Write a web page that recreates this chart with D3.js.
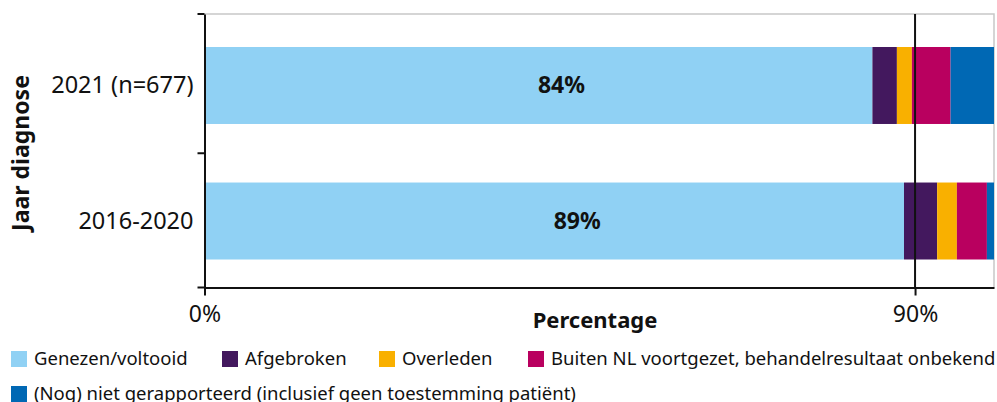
<!DOCTYPE html>
<html>
<head>
<meta charset="utf-8">
<script src="https://cdn.jsdelivr.net/npm/d3@7"></script>
<style>
body { margin: 0; background: #fff; }
text { font-family: 'Noto Sans', sans-serif; }
</style>
</head>
<body>
<script>
var years = ['2021 (n=677)', '2016-2020'];
var seriesNames = ['Genezen/voltooid', 'Afgebroken', 'Overleden',
    'Buiten NL voortgezet, behandelresultaat onbekend',
    '(Nog) niet gerapporteerd (inclusief geen toestemming patiënt)'];
var seriesColors = ['#90d1f4', '#43185e', '#f9b000', '#b9005f', '#0068b4'];
var genezen = [84.6, 88.6];
var afgebroken = [3.1, 4.2];
var overleden = [1.9, 2.5];
var buiten = [4.9, 3.8];
var nietGerapporteerd = [5.5, 0.9];
var barLabels = ['84%', '89%'];
var xTicks = [0, 90];

var svgWidth = 997, svgHeight = 402;
var plotLeft = 204.5, plotRight = 994, plotTop = 14, plotBottom = 287.5;

var svg = d3.select('body')
    .append('svg')
    .attr('width', svgWidth)
    .attr('height', svgHeight);

var x = d3.scaleLinear().domain([0, 100]).range([plotLeft, plotRight]);
var y = d3.scaleBand().domain(years).range([plotTop, plotTop + 278.5]).paddingInner(0.432).paddingOuter(0.2435);

var rows = years.map(function (yr, i) {
    return {year: yr, values: [genezen[i], afgebroken[i], overleden[i], buiten[i], nietGerapporteerd[i]]};
});

// plot frame (top and right, light grey)
svg.append('path')
    .attr('d', 'M' + plotLeft + ',' + plotTop + 'H' + plotRight + 'V' + plotBottom)
    .attr('fill', 'none')
    .attr('stroke', '#c8c8c8')
    .attr('stroke-width', 1.5);

// stacked bars
rows.forEach(function (r) {
    var acc = 0;
    r.values.forEach(function (v, j) {
        svg.append('rect')
            .attr('x', x(acc))
            .attr('y', y(r.year))
            .attr('width', x(acc + v) - x(acc))
            .attr('height', y.bandwidth())
            .attr('fill', seriesColors[j]);
        acc += v;
    });
});

// 90% reference line
svg.append('line')
    .attr('x1', x(90)).attr('x2', x(90))
    .attr('y1', plotTop).attr('y2', plotBottom)
    .attr('stroke', '#111')
    .attr('stroke-width', 2);

// bar value labels
svg.selectAll('.val')
    .data(rows)
    .enter()
    .append('text')
    .attr('class', 'val')
    .attr('x', function (d) { return x(d.values[0] / 2) + 23; })
    .attr('y', function (d) { return y(d.year) + y.bandwidth() / 2; })
    .attr('dy', '0.34em')
    .attr('text-anchor', 'middle')
    .attr('font-size', 23)
    .attr('font-weight', 'bold')
    .attr('fill', '#111')
    .text(function (d, i) { return barLabels[i]; });

// axes
var xAxis = svg.append('g')
    .attr('transform', 'translate(0,' + plotBottom + ')')
    .call(d3.axisBottom(x).tickValues(xTicks).tickSize(8).tickSizeOuter(0)
        .tickFormat(function (d) { return d + '%'; }));
xAxis.select('.domain').attr('stroke', '#111').attr('stroke-width', 2);
xAxis.selectAll('.tick line').attr('stroke', '#111').attr('stroke-width', 2);
xAxis.selectAll('.tick text')
    .attr('font-family', "'Noto Sans', sans-serif")
    .attr('font-size', 23)
    .attr('fill', '#111')
    .attr('y', 34)
    .attr('dy', 0);

var yAxis = svg.append('g')
    .attr('transform', 'translate(' + plotLeft + ',0)')
    .call(d3.axisLeft(y).tickSize(0).tickPadding(11));
yAxis.select('.domain').attr('stroke', '#111').attr('stroke-width', 2);
yAxis.selectAll('.tick text')
    .attr('font-family', "'Noto Sans', sans-serif")
    .attr('font-size', 23.5)
    .attr('fill', '#111')
    .attr('dy', '0.32em');

// y ticks between categories
var yTickPos = [plotTop, (y(years[0]) + y.bandwidth() + y(years[1])) / 2, plotBottom];
svg.selectAll('.ytick')
    .data(yTickPos)
    .enter()
    .append('line')
    .attr('x1', plotLeft - 7).attr('x2', plotLeft)
    .attr('y1', function (d) { return d; })
    .attr('y2', function (d) { return d; })
    .attr('stroke', '#111')
    .attr('stroke-width', 2);

// axis titles
svg.append('text')
    .attr('x', 595)
    .attr('y', 328)
    .attr('text-anchor', 'middle')
    .attr('font-size', 22)
    .attr('font-weight', 'bold')
    .attr('fill', '#111')
    .text('Percentage');

svg.append('text')
    .attr('transform', 'translate(29,' + 153 + ') rotate(-90)')
    .attr('text-anchor', 'middle')
    .attr('font-size', 23)
    .attr('font-weight', 'bold')
    .attr('fill', '#111')
    .text('Jaar diagnose');

// legend
var legendPos = [[11, 351], [222, 351], [379, 351], [528, 351], [11, 386]];
var legend = svg.selectAll('.leg')
    .data(seriesNames)
    .enter()
    .append('g')
    .attr('class', 'leg')
    .attr('transform', function (d, i) { return 'translate(' + legendPos[i][0] + ',' + legendPos[i][1] + ')'; });
legend.append('rect')
    .attr('width', 16)
    .attr('height', 16)
    .attr('fill', function (d, i) { return seriesColors[i]; });
legend.append('text')
    .attr('x', 23)
    .attr('y', 8)
    .attr('dy', '0.35em')
    .attr('font-size', 18.5)
    .attr('fill', '#111')
    .text(function (d) { return d; });
</script>
</body>
</html>
